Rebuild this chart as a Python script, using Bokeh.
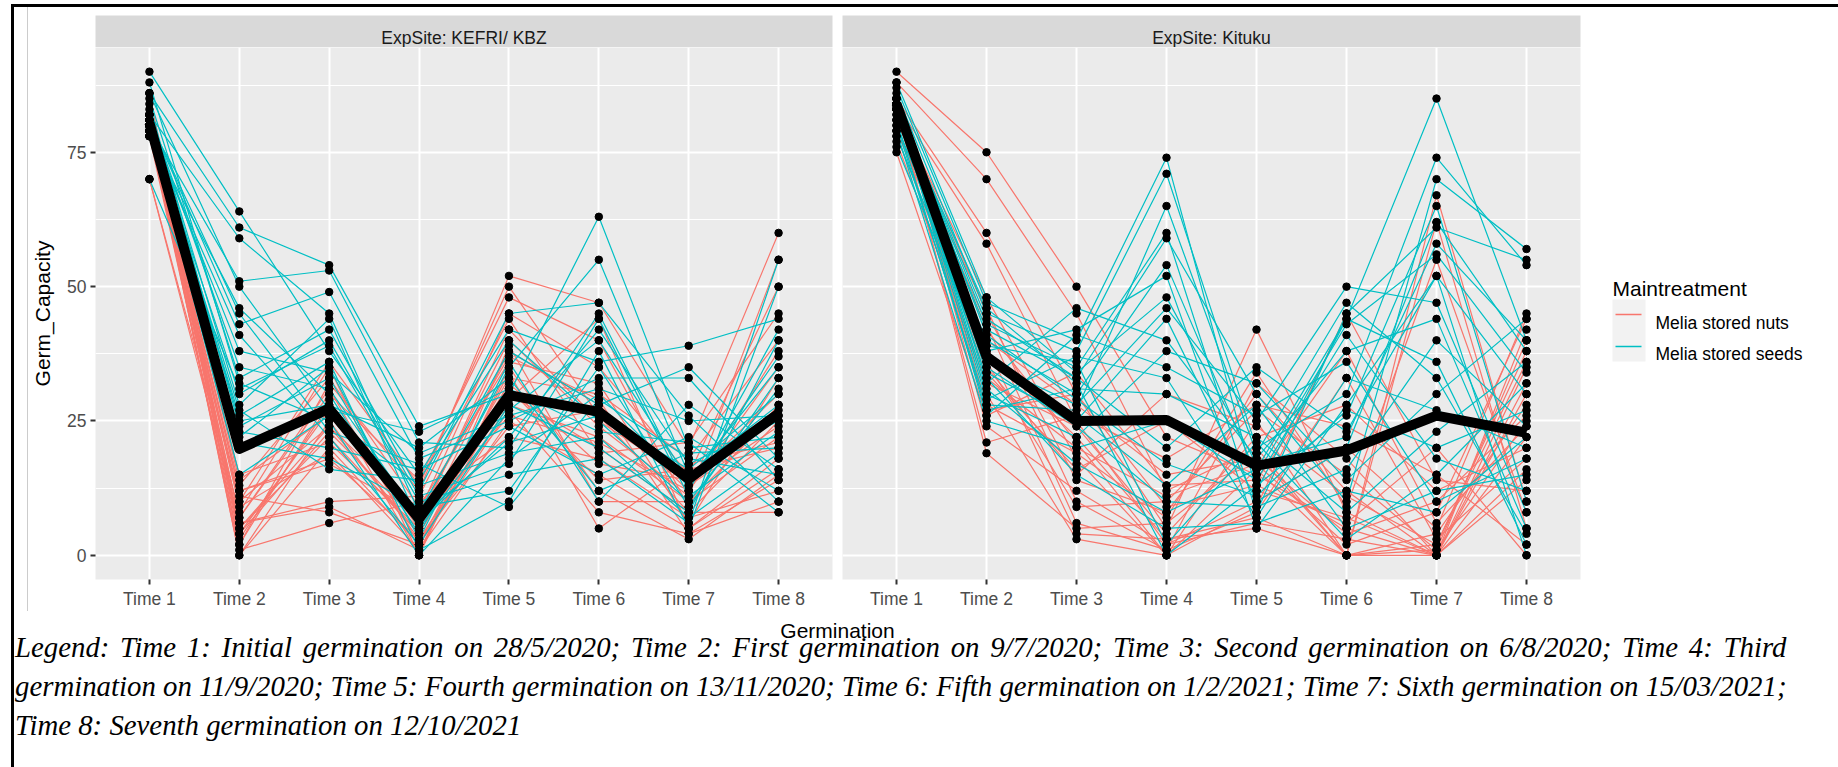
from bokeh.plotting import figure
from bokeh.layouts import column, row
from bokeh.models import Div, Range1d, FixedTicker
from bokeh.embed import file_html
from bokeh.resources import INLINE
from bokeh.core.properties import value

# ---------------- data ----------------
time_index = [1, 2, 3, 4, 5, 6, 7, 8]
time_labels = ["Time 1", "Time 2", "Time 3", "Time 4", "Time 5", "Time 6", "Time 7", "Time 8"]
y_ticks = [0, 25, 50, 75]
y_minor = [12.5, 37.5, 62.5, 87.5]
site_titles = ["ExpSite: KEFRI/ KBZ", "ExpSite: Kituku"]
groups = ["Melia stored nuts", "Melia stored seeds"]
group_colors = ["#F8766D", "#00BFC4"]
legend_title = "Maintreatment"
x_title = "Germination"
y_title = "Germ_Capacity"

kefri_nuts = [
    [80, 0, 20, 2, 30, 20, 8, 25], [82, 3, 28, 5, 38, 28, 12, 35], [79, 6, 9, 1, 25, 15, 5, 18],
    [81, 10, 24, 8, 45, 35, 15, 50], [78, 2, 32, 12, 52, 47, 20, 60], [80, 12, 18, 3, 28, 22, 10, 22],
    [70, 8, 35, 0, 35, 12, 3, 15], [81, 14, 26, 6, 42, 25, 14, 30], [79, 1, 6, 10, 22, 18, 7, 12],
    [82, 5, 22, 4, 33, 30, 18, 40], [80, 7, 30, 14, 48, 40, 9, 28], [78, 11, 8, 2, 27, 8, 4, 10],
    [86, 4, 27, 7, 40, 24, 11, 55], [80, 9, 19, 1, 31, 14, 16, 20], [79, 13, 33, 9, 36, 32, 6, 33],
    [81, 0, 25, 3, 24, 27, 13, 24], [70, 6, 10, 11, 44, 19, 21, 45], [80, 15, 21, 5, 29, 44, 5, 16],
    [82, 2, 29, 0, 39, 10, 10, 27], [78, 10, 36, 13, 50, 26, 8, 8], [79, 4, 23, 6, 26, 21, 12, 38],
    [81, 7, 31, 2, 34, 5, 17, 21], [80, 12, 17, 8, 37, 29, 4, 14], [80, 5, 24, 4, 32, 17, 14, 26],
]
kefri_seeds = [
    [90, 64, 38, 15, 42, 36, 39, 44], [86, 61, 54, 24, 30, 63, 20, 22], [82, 59, 45, 8, 38, 28, 35, 18],
    [80, 51, 53, 21, 20, 45, 12, 42], [78, 46, 30, 4, 35, 55, 15, 28], [81, 43, 49, 18, 25, 33, 33, 14],
    [79, 41, 22, 2, 28, 20, 8, 40], [85, 33, 42, 12, 45, 47, 26, 10], [88, 32, 25, 0, 18, 30, 13, 37],
    [70, 31, 39, 10, 15, 18, 6, 55], [83, 28, 44, 6, 22, 42, 17, 25], [80, 27, 16, 14, 40, 25, 10, 31],
    [79, 26, 36, 1, 10, 38, 5, 50], [82, 25, 28, 20, 33, 12, 19, 20], [84, 24, 33, 5, 27, 40, 14, 35],
    [80, 23, 20, 16, 24, 15, 22, 12], [81, 22, 35, 3, 36, 10, 28, 16], [78, 21, 18, 9, 12, 35, 9, 33],
    [86, 50, 27, 23, 31, 23, 21, 8], [80, 30, 40, 11, 17, 44, 11, 23], [82, 35, 31, 7, 21, 26, 16, 30],
    [79, 15, 26, 13, 19, 22, 7, 19], [80, 38, 34, 19, 26, 31, 25, 26], [81, 45, 23, 17, 9, 29, 18, 15],
]
kituku_nuts = [
    [90, 75, 50, 22, 15, 5, 0, 30], [88, 70, 45, 12, 20, 0, 2, 38], [85, 60, 30, 5, 42, 8, 0, 22],
    [84, 58, 25, 2, 10, 20, 5, 45], [83, 48, 18, 0, 25, 0, 67, 10], [84, 45, 14, 8, 30, 12, 0, 35],
    [81, 43, 6, 1, 8, 33, 3, 18], [79, 40, 28, 15, 18, 4, 10, 26], [84, 38, 22, 3, 5, 0, 62, 5],
    [78, 36, 9, 10, 27, 15, 1, 40], [85, 34, 16, 25, 12, 7, 0, 14], [77, 32, 24, 4, 22, 28, 12, 20],
    [83, 30, 3, 0, 16, 0, 0, 32], [84, 28, 19, 7, 34, 9, 55, 8], [75, 26, 34, 13, 14, 38, 6, 24],
    [85, 24, 12, 2, 6, 3, 0, 42], [83, 21, 26, 18, 28, 24, 15, 2], [84, 19, 5, 6, 19, 0, 4, 28],
    [81, 42, 21, 0, 9, 45, 14, 12], [83, 35, 15, 30, 24, 11, 2, 36], [84, 27, 30, 9, 13, 6, 20, 0],
    [79, 46, 10, 1, 32, 18, 0, 16], [84, 33, 20, 11, 17, 2, 8, 44], [85, 39, 4, 3, 7, 0, 1, 25],
]
kituku_seeds = [
    [87, 47, 40, 74, 12, 44, 85, 40], [86, 45, 38, 71, 20, 30, 74, 54], [84, 43, 35, 60, 8, 45, 61, 55],
    [83, 42, 33, 59, 30, 10, 70, 57], [80, 40, 30, 54, 15, 43, 56, 34], [82, 38, 42, 52, 5, 28, 52, 30],
    [76, 36, 28, 46, 25, 50, 47, 8], [84, 34, 25, 44, 10, 20, 62, 38], [85, 32, 46, 40, 18, 38, 44, 5],
    [84, 30, 22, 38, 32, 14, 30, 44], [83, 29, 37, 33, 7, 33, 27, 20], [81, 27, 31, 30, 22, 8, 23, 36],
    [79, 25, 20, 25, 14, 41, 18, 12], [84, 44, 33, 20, 35, 23, 52, 0], [85, 41, 29, 17, 11, 27, 20, 27],
    [78, 37, 26, 13, 28, 5, 12, 15], [83, 35, 24, 10, 9, 16, 40, 24], [84, 31, 17, 8, 16, 44, 36, 2],
    [82, 33, 15, 5, 6, 12, 8, 22], [85, 39, 36, 2, 21, 3, 15, 32], [83, 46, 32, 0, 13, 26, 65, 10],
    [80, 28, 27, 65, 19, 47, 33, 4], [84, 26, 41, 35, 26, 36, 10, 18], [88, 48, 34, 48, 17, 22, 58, 40],
]
kefri_mean = [80.5, 19.8, 27.3, 6.8, 29.8, 26.7, 14.2, 26.4]
kituku_mean = [84.0, 37.0, 25.0, 25.2, 16.7, 19.5, 26.0, 22.8]

caption_lines = [
    "Legend: Time 1: Initial germination on 28/5/2020; Time 2: First germination on 9/7/2020; "
    "Time 3: Second germination on 6/8/2020; Time 4: Third",
    "germination on 11/9/2020; Time 5: Fourth germination on 13/11/2020; Time 6: Fifth germination "
    "on 1/2/2021; Time 7: Sixth germination on 15/03/2021;",
    "Time 8: Seventh germination on 12/10/2021",
]

FONT = "Liberation Sans"


def spacer(w, h, color=None):
    styles = {"background-color": color} if color else {}
    return Div(text="", width=w, height=h, margin=0, styles=styles)


def bare_figure(width, height, x_range, y_range, **kw):
    return figure(width=width, height=height, x_range=x_range, y_range=y_range,
                  output_backend="svg", toolbar_location=None, title_location=None,
                  x_axis_location=None, y_axis_location=None,
                  border_fill_color="white", outline_line_color=None, **kw)


def make_strip(title, width, left, right):
    s = bare_figure(width, 40, Range1d(0, 1), Range1d(32, 0),
                    min_border_left=left, min_border_right=right, min_border_top=8, min_border_bottom=0,
                    background_fill_color="#D9D9D9")
    s.grid.visible = False
    s.text(x=[0.5], y=[22], text=[title], text_align="center", text_baseline="alphabetic",
           text_font=value(FONT), text_font_size="17.5px", text_color="#1A1A1A")
    return s


def make_panel(nuts, seeds, mean, with_y, width, left, right):
    p = figure(width=width, height=564, x_range=Range1d(0.4, 8.6), y_range=Range1d(-4.5, 94.5),
               output_backend="svg", toolbar_location=None, title_location=None,
               min_border_left=left, min_border_right=right, min_border_top=0, min_border_bottom=29,
               background_fill_color="#EBEBEB", border_fill_color="white", outline_line_color=None)
    p.xaxis.ticker = FixedTicker(ticks=time_index, minor_ticks=[])
    p.xaxis.major_label_overrides = {t: lab for t, lab in zip(time_index, time_labels)}
    p.yaxis.ticker = FixedTicker(ticks=y_ticks, minor_ticks=y_minor)
    p.xgrid.grid_line_color = "white"
    p.xgrid.grid_line_width = 2
    p.ygrid.grid_line_color = "white"
    p.ygrid.grid_line_width = 2
    p.ygrid.minor_grid_line_color = "white"
    p.ygrid.minor_grid_line_width = 1
    for ax in p.axis:
        ax.axis_line_color = None
        ax.major_tick_line_color = "#333333"
        ax.major_tick_line_width = 2
        ax.major_tick_out = 5
        ax.major_tick_in = 0
        ax.minor_tick_line_color = None
        ax.major_label_text_font = FONT
        ax.major_label_text_font_size = "17.5px"
        ax.major_label_text_color = "#4D4D4D"
        ax.major_label_standoff = 4
    if with_y:
        p.yaxis.axis_label = y_title
        p.yaxis.axis_label_text_font = FONT
        p.yaxis.axis_label_text_font_size = "21px"
        p.yaxis.axis_label_text_font_style = "normal"
        p.yaxis.axis_label_text_color = "black"
        p.yaxis.axis_label_standoff = 10
    else:
        p.yaxis.visible = False

    p.multi_line(xs=[time_index for _ in nuts], ys=nuts, line_color=group_colors[0], line_width=1.2)
    p.multi_line(xs=[time_index for _ in seeds], ys=seeds, line_color=group_colors[1], line_width=1.2)
    px, py = [], []
    for traj in nuts + seeds:
        px.extend(time_index)
        py.extend(traj)
    p.scatter(px, py, size=7.5, color="black")
    p.line(time_index, mean, line_width=10, color="black", line_join="round")
    return p


# left facet (with y axis)
strip_l = make_strip(site_titles[0], 809, 66, 5)
panel_l = make_panel(kefri_nuts, kefri_seeds, kefri_mean, True, 809, 66, 5)
# right facet
strip_r = make_strip(site_titles[1], 748, 5, 5)
panel_r = make_panel(kituku_nuts, kituku_seeds, kituku_mean, False, 748, 5, 5)

# legend
lg = bare_figure(253, 604, Range1d(0, 253), Range1d(604, 0),
                 min_border_left=0, min_border_right=0, min_border_top=0, min_border_bottom=0,
                 background_fill_color="white")
lg.grid.visible = False
lg.quad(left=[27], right=[60], top=[292], bottom=[354], fill_color="#F2F2F2", line_color=None)
lg.multi_line(xs=[[30, 56], [30, 56]], ys=[[307, 307], [339, 339]], line_color=group_colors, line_width=1.3)
lg.text(x=[27], y=[281], text=[legend_title], text_align="left", text_baseline="alphabetic",
        text_font=value(FONT), text_font_size="21px", text_color="black")
lg.text(x=[70, 70], y=[315, 346], text=groups, text_align="left", text_baseline="alphabetic",
        text_font=value(FONT), text_font_size="17.5px", text_color="black")

# x axis title shared by both facets (page rows 611..641)
gf = bare_figure(1824, 30, Range1d(14, 1838), Range1d(641, 611),
                 min_border_left=0, min_border_right=0, min_border_top=0, min_border_bottom=0,
                 background_fill_color="white")
gf.grid.visible = False
gf.text(x=[837], y=[630], text=[x_title], text_align="center", text_baseline="alphabetic",
        text_font=value(FONT), text_font_size="21px", text_color="black")

# caption
blocks = []
for i, line in enumerate(caption_lines):
    just = "text-align:justify;text-align-last:justify;" if i < len(caption_lines) - 1 else "text-align:left;"
    blocks.append('<div style="%s">%s</div>' % (just, line))
caption_html = ('<div style="font-family:\'Liberation Serif\',\'Times New Roman\',serif;font-style:italic;'
                'font-size:28.8px;line-height:39px;color:#000;position:relative;top:-13px;">'
                + "".join(blocks) + "</div>")
caption = Div(text=caption_html, width=1817, height=126, margin=0)

main_row = row(spacer(13, 604), spacer(1, 604, "#CCCCCC"),
               column(strip_l, panel_l, spacing=0), column(strip_r, panel_r, spacing=0), lg, spacing=0)
inner = column(main_row, gf, row(spacer(1, 126), caption, spacing=0), spacing=0)
root = column(
    spacer(1838, 4),
    row(spacer(11, 3), spacer(1827, 3, "black"), spacing=0),
    row(spacer(11, 760), spacer(3, 760, "black"), inner, spacing=0),
    spacing=0,
)

open("out.html", "w").write(file_html(root, INLINE))
